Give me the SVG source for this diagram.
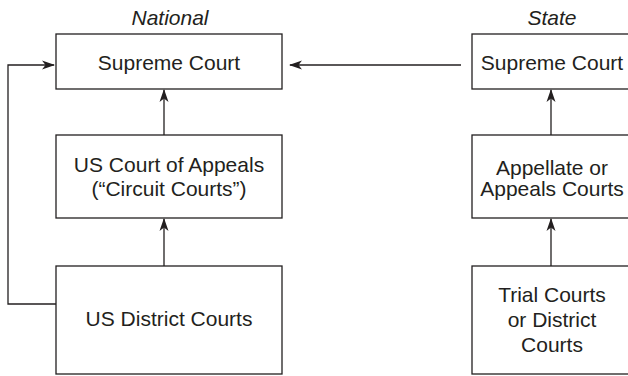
<svg xmlns="http://www.w3.org/2000/svg" width="628" height="376" viewBox="0 0 628 376">
<defs>
<marker id="ah" markerWidth="13" markerHeight="10" refX="12" refY="5" orient="auto" markerUnits="userSpaceOnUse">
<path d="M0,0.5 L13,5 L0,9.5 L3.5,5 Z" fill="#231f20"/>
</marker>
</defs>
<style>
.box{fill:#fff;stroke:#231f20;stroke-width:1.3}
.t{font-family:"Liberation Sans",Arial,sans-serif;font-size:21px;fill:#231f20;text-anchor:middle}
.h{font-family:"Liberation Sans",Arial,sans-serif;font-size:21px;font-style:italic;fill:#231f20;text-anchor:middle}
.c{fill:none;stroke:#231f20;stroke-width:1.3}
</style>
<text class="h" x="170" y="25">National</text>
<text class="h" x="552" y="25">State</text>
<g id="nat-supreme"><rect class="box" x="56" y="34" width="226" height="55"/><text class="t" x="169" y="70">Supreme Court</text></g>
<g id="nat-appeals"><rect class="box" x="56" y="135" width="226" height="83"/><text class="t" x="169" y="172">US Court of Appeals</text><text class="t" x="169" y="196">(“Circuit Courts”)</text></g>
<g id="nat-district"><rect class="box" x="56" y="266" width="226" height="108"/><text class="t" x="169" y="326">US District Courts</text></g>
<g id="st-supreme"><rect class="box" x="472" y="34" width="170" height="55"/><text class="t" x="552" y="70">Supreme Court</text></g>
<g id="st-appeals"><rect class="box" x="472" y="135" width="170" height="83"/><text class="t" x="552" y="175">Appellate or</text><text class="t" x="552" y="196">Appeals Courts</text></g>
<g id="st-trial"><rect class="box" x="472" y="266" width="170" height="108"/><text class="t" x="552" y="302">Trial Courts</text><text class="t" x="552" y="327">or District</text><text class="t" x="552" y="352">Courts</text></g>
<g id="connectors">
<line class="c" x1="164" y1="266" x2="164" y2="219" marker-end="url(#ah)"/>
<line class="c" x1="164" y1="135" x2="164" y2="90" marker-end="url(#ah)"/>
<line class="c" x1="551" y1="266" x2="551" y2="219" marker-end="url(#ah)"/>
<line class="c" x1="551" y1="135" x2="551" y2="90" marker-end="url(#ah)"/>
<line class="c" x1="461" y1="65" x2="290" y2="65" marker-end="url(#ah)"/>
<polyline class="c" points="56,304 8,304 8,65 54,65" marker-end="url(#ah)"/>
</g>
</svg>
